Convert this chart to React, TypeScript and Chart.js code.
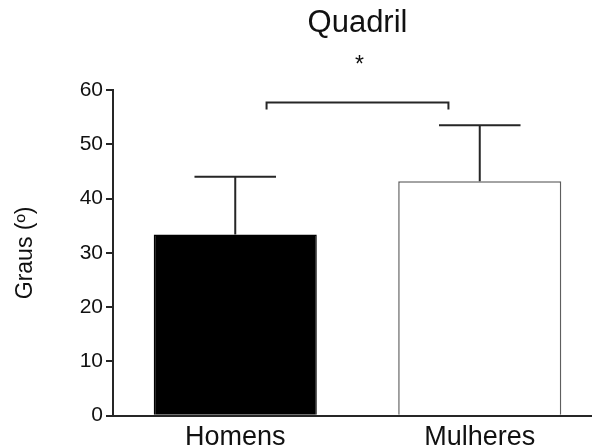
import React, { useEffect, useRef } from "react";
import { Chart, registerables } from "chart.js";

Chart.register(...registerables);

// ---- data ----
const categories = ["Homens", "Mulheres"];
const means = [33.4, 43.2];
const sdUpper = [10.6, 10.3];
const yMin = 0;
const yMax = 60;
const yStep = 10;
const chartTitle = "Quadril";
const yAxisTitle = "Graus (º)";
const significanceMark = "*";
const significancePair = [0, 1];
const bracketValue = 57.7;

// ---- style ----
const FONT = '"Liberation Sans", Arial, Helvetica, sans-serif';
const INK = "#111111";
const LINE = "#262626";
const barFills = ["#000000", "#ffffff"];
const barBorders = ["#000000", "#5e5e5e"];

const annotationPlugin = {
  id: "annotations",
  afterDatasetsDraw(chart: any) {
    const ctx = chart.ctx;
    const meta = chart.getDatasetMeta(0);
    const xs = chart.scales.x;
    const ys = chart.scales.y;
    ctx.save();
    ctx.strokeStyle = LINE;
    ctx.lineWidth = 2;
    ctx.lineCap = "butt";
    // error bars (upper only)
    meta.data.forEach((bar: any, i: number) => {
      const top = ys.getPixelForValue(means[i]);
      const end = ys.getPixelForValue(means[i] + sdUpper[i]);
      const half = bar.width / 4;
      ctx.beginPath();
      ctx.moveTo(bar.x, top);
      ctx.lineTo(bar.x, end);
      ctx.moveTo(bar.x - half, end);
      ctx.lineTo(bar.x + half, end);
      ctx.stroke();
    });
    // significance bracket
    const xa = xs.getPixelForValue(significancePair[0]);
    const xb = xs.getPixelForValue(significancePair[1]);
    const inset = meta.data[0].width * 0.192;
    const by = ys.getPixelForValue(bracketValue);
    ctx.beginPath();
    ctx.moveTo(xa + inset, by + 7);
    ctx.lineTo(xa + inset, by);
    ctx.lineTo(xb - inset, by);
    ctx.lineTo(xb - inset, by + 7);
    ctx.stroke();
    const mid = (xa + xb) / 2;
    ctx.fillStyle = INK;
    ctx.textAlign = "center";
    ctx.textBaseline = "alphabetic";
    ctx.font = `23px ${FONT}`;
    ctx.fillText(significanceMark, mid + 2, by - 30);
    ctx.font = `31px ${FONT}`;
    ctx.fillText(chartTitle, mid, chart.chartArea.top - 57.7);
    ctx.restore();
  },
};

export default function App() {
  const ref = useRef<HTMLCanvasElement | null>(null);

  useEffect(() => {
    document.body.style.margin = "0";
    const canvas = ref.current;
    if (!canvas) return;
    const chart = new Chart(canvas, {
      type: "bar",
      data: {
        labels: categories,
        datasets: [
          {
            data: means,
            backgroundColor: barFills,
            borderColor: barBorders,
            borderWidth: 1.5,
            barPercentage: 0.667,
            categoryPercentage: 1,
          },
        ],
      },
      options: {
        responsive: false,
        animation: false,
        devicePixelRatio: 1,
        layout: { padding: { top: 90, left: 0, right: 0, bottom: 0 } },
        plugins: {
          legend: { display: false },
          tooltip: { enabled: false },
          title: { display: false },
        },
        scales: {
          x: {
            offset: true,
            grid: { display: false },
            border: { display: true, color: LINE, width: 2 },
            ticks: {
              color: INK,
              padding: 0,
              font: { size: 27, family: FONT, lineHeight: 1.0 },
            },
            afterFit: (s: any) => {
              s.height = 32.3;
            },
          },
          y: {
            min: yMin,
            max: yMax,
            ticks: {
              stepSize: yStep,
              color: INK,
              padding: 3,
              font: { size: 21, family: FONT },
            },
            grid: {
              display: true,
              drawOnChartArea: false,
              drawTicks: true,
              tickLength: 7,
              color: LINE,
              lineWidth: 2,
            },
            border: { display: true, color: LINE, width: 2 },
            title: {
              display: true,
              text: yAxisTitle,
              color: INK,
              font: { size: 23, family: FONT, lineHeight: 1.2 },
              padding: { top: 11.7, bottom: 0 },
            },
            afterFit: (s: any) => {
              s.width = 113;
            },
          },
        },
      },
      plugins: [annotationPlugin],
    });
    return () => chart.destroy();
  }, []);

  return (
    <div style={{ width: 592, height: 448, overflow: "hidden", background: "#fff" }}>
      <canvas ref={ref} width={602} height={448} style={{ display: "block", width: 602, height: 448 }} />
    </div>
  );
}
